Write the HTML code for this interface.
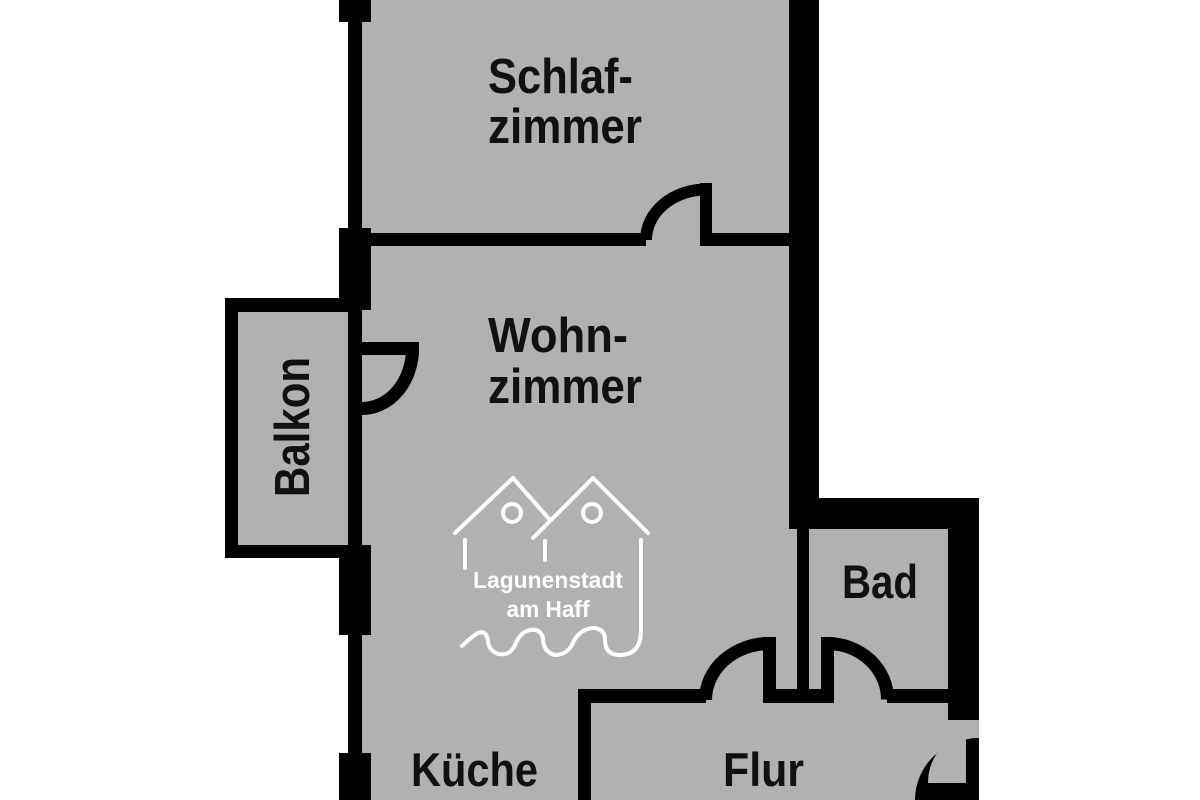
<!DOCTYPE html>
<html><head><meta charset="utf-8"><style>
html,body{margin:0;padding:0;background:#fff;}
svg{display:block;}
text{font-family:"Liberation Sans",sans-serif;font-weight:bold;}
</style></head><body>
<svg width="1200" height="800" viewBox="0 0 1200 800" xmlns="http://www.w3.org/2000/svg">
<rect width="1200" height="800" fill="#fff"/>
<polygon points="362,0 789,0 789,498 948,498 948,800 362,800" fill="#b2b1af"/>
<rect x="948" y="720" width="31" height="80" fill="#b2b1af"/>
<rect x="225" y="298" width="137" height="260" fill="#000"/>
<rect x="238" y="312" width="110" height="233" fill="#b2b1af"/>
<rect x="339" y="0" width="32" height="22" fill="#000"/>
<rect x="348" y="22" width="14" height="206" fill="#000"/>
<rect x="339" y="228" width="32" height="82" fill="#000"/>
<rect x="348" y="310" width="14" height="240" fill="#000"/>
<rect x="339" y="545" width="32" height="90" fill="#000"/>
<rect x="348" y="635" width="14" height="120" fill="#000"/>
<rect x="339" y="753" width="32" height="47" fill="#000"/>
<rect x="362" y="342" width="57" height="13" fill="#000"/>
<path d="M412.5 348.5 A50.5 60 0 0 1 362 408.5" fill="none" stroke="#000" stroke-width="13"/>
<rect x="362" y="233" width="284" height="13" fill="#000"/>
<rect x="706" y="233" width="83" height="13" fill="#000"/>
<rect x="700" y="183" width="12" height="63" fill="#000"/>
<path d="M646 240 A60 50.5 0 0 1 706 189.5" fill="none" stroke="#000" stroke-width="12"/>
<rect x="789" y="0" width="30" height="498" fill="#000"/>
<rect x="789" y="498" width="190" height="31" fill="#000"/>
<rect x="948" y="498" width="31" height="222" fill="#000"/>
<rect x="797" y="529" width="12" height="161" fill="#000"/>
<rect x="578" y="689" width="128" height="14" fill="#000"/>
<rect x="763" y="689" width="71" height="14" fill="#000"/>
<rect x="887" y="689" width="61" height="14" fill="#000"/>
<rect x="578" y="689" width="13" height="111" fill="#000"/>
<rect x="763" y="637" width="13" height="66" fill="#000"/>
<path d="M705.5 700 A64 56.5 0 0 1 769.5 643.5" fill="none" stroke="#000" stroke-width="13"/>
<rect x="821" y="637" width="13" height="66" fill="#000"/>
<path d="M827.5 643.5 A60 56 0 0 1 887.5 699.5" fill="none" stroke="#000" stroke-width="13"/>
<path d="M915 800 A64 62 0 0 1 979 738 L979 800 Z" fill="#000"/>
<path d="M928 783 A38 46 0 0 1 966 737 L966 783 Z" fill="#b2b1af"/>
<g fill="#111">
<text x="488" y="93" font-size="49" textLength="145" lengthAdjust="spacingAndGlyphs">Schlaf-</text>
<text x="488" y="143" font-size="49" textLength="154" lengthAdjust="spacingAndGlyphs">zimmer</text>
<text x="488" y="352" font-size="49" textLength="140" lengthAdjust="spacingAndGlyphs">Wohn-</text>
<text x="488" y="403" font-size="49" textLength="154" lengthAdjust="spacingAndGlyphs">zimmer</text>
<text x="842" y="598" font-size="47" textLength="76" lengthAdjust="spacingAndGlyphs">Bad</text>
<text x="411" y="786" font-size="47" textLength="127" lengthAdjust="spacingAndGlyphs">Küche</text>
<text x="723" y="786" font-size="47" textLength="81" lengthAdjust="spacingAndGlyphs">Flur</text>
<text transform="translate(309,497) rotate(-90)" x="0" y="0" font-size="49" textLength="140" lengthAdjust="spacingAndGlyphs">Balkon</text>
</g>
<g fill="none" stroke="#fff" stroke-width="4" stroke-linecap="round" stroke-linejoin="round">
<polyline points="455,533 513,478 550,520"/>
<polyline points="533,538 593,478 648,533"/>
<line x1="465" y1="540" x2="465" y2="568"/>
<line x1="545" y1="541" x2="545" y2="560"/>
<circle cx="512" cy="513" r="9"/>
<circle cx="592" cy="513" r="9"/>
<path d="M641 540 L641 630 Q641 655 620 655 Q605 655 605 640 Q605 628 592 628 Q578 630 572 645 Q566 655 555 655 Q543 652 543 638 Q540 628 530 630 Q520 632 515 645 Q510 656 498 654 Q488 650 488 640 Q486 630 478 633 Q470 638 462 646"/>
</g>
<text x="548" y="588" font-size="23" fill="#fff" text-anchor="middle" textLength="150" lengthAdjust="spacingAndGlyphs">Lagunenstadt</text>
<text x="548" y="617" font-size="23" fill="#fff" text-anchor="middle" textLength="83" lengthAdjust="spacingAndGlyphs">am Haff</text>
</svg>
</body></html>
